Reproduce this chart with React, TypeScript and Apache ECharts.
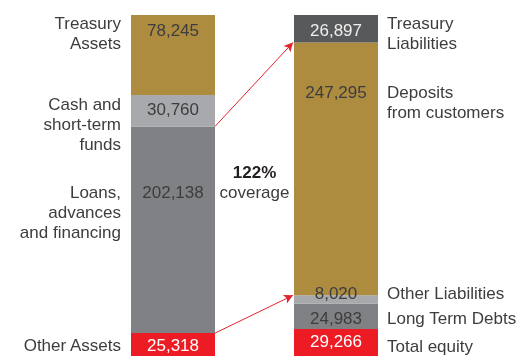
import React, { useEffect, useRef } from "react";
import * as echarts from "echarts";

// ---- data ----
const categories = ["Assets", "Liabilities"];
const assetNames = ["Other Assets", "Loans,\nadvances\nand financing", "Cash and\nshort-term\nfunds", "Treasury\nAssets"];
const assetValues = [25318, 202138, 30760, 78245];
const liabilityNames = ["Total equity", "Long Term Debts", "Other Liabilities", "Deposits\nfrom customers", "Treasury\nLiabilities"];
const liabilityValues = [29266, 24983, 8020, 247295, 26897];
const coverageText = "122%";
const coverageCaption = "coverage";

// ---- styling / layout (not data) ----
const GOLD = "#AD8B3F";
const RED = "#ED1C24";
const MID = "#808184";
const LIGHT = "#A7A9AC";
const DARK = "#58595B";
const TEXT = "#3d3d3f";
const FONT = "'Liberation Sans', Arial, Helvetica, sans-serif";
const BAR_W = 84;

const assetColors = [RED, MID, LIGHT, GOLD];
const assetValueColors = ["#ffffff", TEXT, TEXT, TEXT];
const assetValueDy = [12, 66, 15, 15];
const assetNameDy = [12, 86, 30, 18];

const liabColors = [RED, MID, LIGHT, GOLD, DARK];
const liabValueColors = ["#ffffff", TEXT, TEXT, TEXT, "#eeeeee"];
const liabValueDy = [12.5, 14.5, -1.5, 50.5, 15];
const liabNameDy = [17, 15, -2, 60, 18];

function buildSeries(
  catIndex: number,
  names: string[],
  values: number[],
  colors: string[],
  valueColors: string[],
  valueDy: number[],
  nameDy: number[],
  side: "left" | "right"
) {
  const out: any[] = [];
  values.forEach((v, i) => {
    const data = categories.map((_, ci) => (ci === catIndex ? v : "-"));
    out.push({
      type: "bar",
      stack: "main",
      barWidth: BAR_W,
      barGap: "-100%",
      data,
      itemStyle: { color: colors[i] },
      silent: true,
      label: {
        show: true,
        position: ["50%", valueDy[i]],
        align: "center",
        verticalAlign: "middle",
        color: valueColors[i],
        fontSize: 17,
        fontFamily: FONT,
        formatter: (p: any) => Number(p.value).toLocaleString("en-US"),
      },
    });
    out.push({
      type: "bar",
      stack: "names",
      barWidth: BAR_W,
      barGap: "-100%",
      data,
      itemStyle: { color: "rgba(0,0,0,0)" },
      silent: true,
      z: 3,
      label: {
        show: true,
        position: side === "left" ? [-10, nameDy[i]] : [BAR_W + 9, nameDy[i]],
        align: side === "left" ? "right" : "left",
        verticalAlign: "middle",
        color: TEXT,
        fontSize: 17,
        lineHeight: 20,
        fontFamily: FONT,
        formatter: () => names[i],
      },
    });
  });
  return out;
}

export default function App() {
  const ref = useRef<HTMLDivElement>(null);
  useEffect(() => {
    if (!ref.current) return;
    const chart = echarts.init(ref.current, null, { renderer: "svg" });
    const total = assetValues.reduce((a, b) => a + b, 0);
    const series = [
      ...buildSeries(0, assetNames, assetValues, assetColors, assetValueColors, assetValueDy, assetNameDy, "left"),
      ...buildSeries(1, liabilityNames, liabilityValues, liabColors, liabValueColors, liabValueDy, liabNameDy, "right"),
    ];
    chart.setOption({
      animation: false,
      grid: { left: 91.5, top: 15, width: 326, height: 344, outerBoundsMode: "none", containLabel: false },
      xAxis: { type: "category", data: categories, show: false },
      yAxis: { type: "value", min: 0, max: total, show: false },
      series,
    });

    // connecting arrows, computed from the library's scales
    const xA = chart.convertToPixel({ xAxisIndex: 0 }, categories[0]) as number;
    const xL = chart.convertToPixel({ xAxisIndex: 0 }, categories[1]) as number;
    const yPix = (v: number) => chart.convertToPixel({ yAxisIndex: 0 }, v) as number;
    const cumA = (n: number) => assetValues.slice(0, n).reduce((a, b) => a + b, 0);
    const cumL = (n: number) => liabilityValues.slice(0, n).reduce((a, b) => a + b, 0);
    const x1 = xA + BAR_W / 2;
    const x2 = xL - BAR_W / 2 - 1;
    const arrows = [
      [{ x: x1, y: yPix(cumA(2)) }, { x: x2, y: yPix(cumL(4)) }], // loans -> deposits
      [{ x: x1, y: yPix(cumA(1)) }, { x: x2, y: yPix(cumL(3)) }], // other assets -> other liabilities
    ];
    const midX = (xA + xL) / 2;
    chart.setOption({
      series: [
        {
          markLine: {
            silent: true,
            symbol: ["none", "arrow"],
            symbolSize: [7, 9],
            label: { show: false },
            lineStyle: { color: "#E3232B", width: 1, type: "solid" },
            data: arrows,
          },
        },
      ],
      graphic: [
        {
          type: "text",
          x: midX,
          y: 172,
          style: {
            text: coverageText,
            fill: "#231F20",
            font: `bold 17px ${FONT}`,
            align: "center",
            verticalAlign: "middle",
          },
        },
        {
          type: "text",
          x: midX,
          y: 192,
          style: {
            text: coverageCaption,
            fill: TEXT,
            font: `17px ${FONT}`,
            align: "center",
            verticalAlign: "middle",
          },
        },
      ],
    });
    return () => chart.dispose();
  }, []);
  return (
    <div
      ref={ref}
      style={{ position: "fixed", left: 0, top: 0, width: 522, height: 356 }}
    />
  );
}
